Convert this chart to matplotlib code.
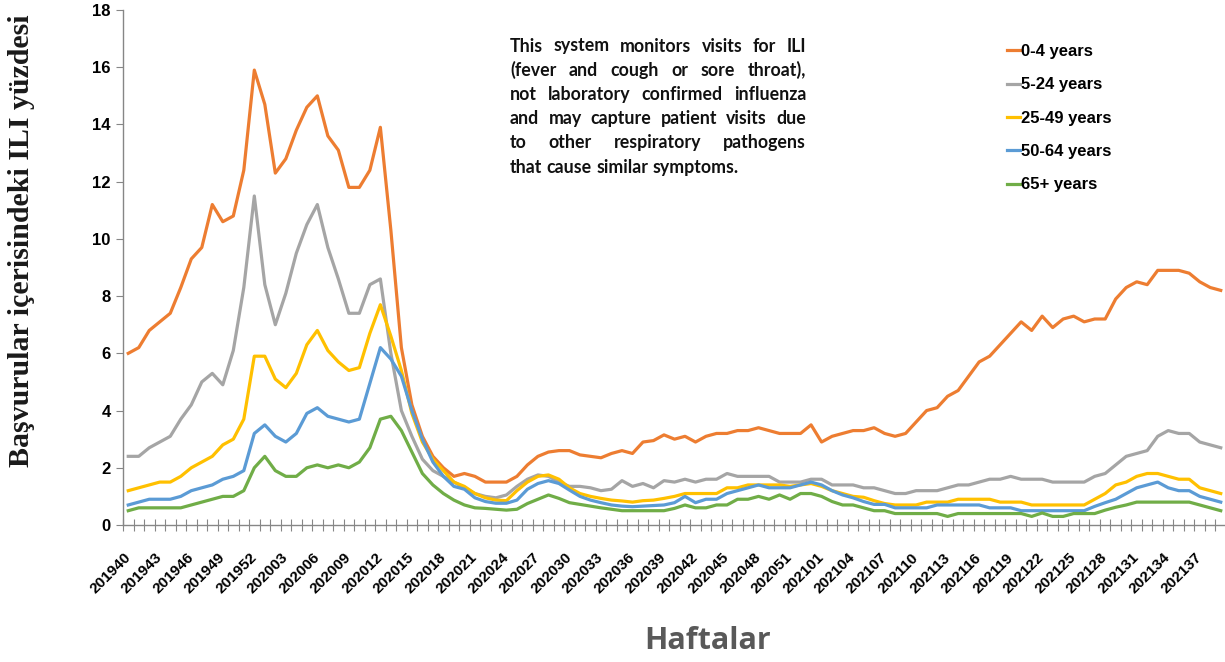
import matplotlib
matplotlib.use("Agg")
import matplotlib.pyplot as plt
import numpy as np

# ISO haftaları: 2019/40 - 2021/39 (2020 yılı 53 hafta)
weeks = ([f"2019{w}" for w in range(40, 53)] +
         [f"2020{w:02d}" for w in range(1, 54)] +
         [f"2021{w:02d}" for w in range(1, 40)])

age_0_4 = [6.0, 6.2, 6.8, 7.1, 7.4, 8.3, 9.3, 9.7, 11.2, 10.6,
           10.8, 12.4, 15.9, 14.7, 12.3, 12.8, 13.8, 14.6, 15.0, 13.6,
           13.1, 11.8, 11.8, 12.4, 13.9, 10.3, 6.2, 4.2, 3.1, 2.4,
           2.0, 1.7, 1.8, 1.7, 1.5, 1.5, 1.5, 1.7, 2.1, 2.4,
           2.55, 2.6, 2.6, 2.45, 2.4, 2.35, 2.5, 2.6, 2.5, 2.9,
           2.95, 3.15, 3.0, 3.1, 2.9, 3.1, 3.2, 3.2, 3.3, 3.3,
           3.4, 3.3, 3.2, 3.2, 3.2, 3.5, 2.9, 3.1, 3.2, 3.3,
           3.3, 3.4, 3.2, 3.1, 3.2, 3.6, 4.0, 4.1, 4.5, 4.7,
           5.2, 5.7, 5.9, 6.3, 6.7, 7.1, 6.8, 7.3, 6.9, 7.2,
           7.3, 7.1, 7.2, 7.2, 7.9, 8.3, 8.5, 8.4, 8.9, 8.9,
           8.9, 8.8, 8.5, 8.3, 8.2]
age_5_24 = [2.4, 2.4, 2.7, 2.9, 3.1, 3.7, 4.2, 5.0, 5.3, 4.9,
            6.1, 8.3, 11.5, 8.4, 7.0, 8.1, 9.5, 10.5, 11.2, 9.7,
            8.6, 7.4, 7.4, 8.4, 8.6, 6.0, 4.0, 3.1, 2.3, 1.9,
            1.7, 1.5, 1.3, 1.1, 1.0, 0.95, 1.05, 1.35, 1.6, 1.75,
            1.7, 1.5, 1.35, 1.35, 1.3, 1.2, 1.25, 1.55, 1.35, 1.45,
            1.3, 1.55, 1.5, 1.6, 1.5, 1.6, 1.6, 1.8, 1.7, 1.7,
            1.7, 1.7, 1.5, 1.5, 1.5, 1.6, 1.6, 1.4, 1.4, 1.4,
            1.3, 1.3, 1.2, 1.1, 1.1, 1.2, 1.2, 1.2, 1.3, 1.4,
            1.4, 1.5, 1.6, 1.6, 1.7, 1.6, 1.6, 1.6, 1.5, 1.5,
            1.5, 1.5, 1.7, 1.8, 2.1, 2.4, 2.5, 2.6, 3.1, 3.3,
            3.2, 3.2, 2.9, 2.8, 2.7]
age_25_49 = [1.2, 1.3, 1.4, 1.5, 1.5, 1.7, 2.0, 2.2, 2.4, 2.8,
             3.0, 3.7, 5.9, 5.9, 5.1, 4.8, 5.3, 6.3, 6.8, 6.1,
             5.7, 5.4, 5.5, 6.7, 7.7, 6.6, 5.4, 3.9, 2.9, 2.3,
             1.9, 1.5, 1.35, 1.1, 0.95, 0.87, 0.85, 1.2, 1.5, 1.7,
             1.75, 1.6, 1.3, 1.1, 1.0, 0.93, 0.87, 0.84, 0.8, 0.85,
             0.87, 0.93, 1.0, 1.1, 1.1, 1.1, 1.1, 1.3, 1.3, 1.4,
             1.4, 1.4, 1.4, 1.35, 1.4, 1.45, 1.35, 1.2, 1.1, 1.0,
             0.97, 0.85, 0.75, 0.7, 0.7, 0.7, 0.8, 0.8, 0.8, 0.9,
             0.9, 0.9, 0.9, 0.8, 0.8, 0.8, 0.7, 0.7, 0.7, 0.7,
             0.7, 0.7, 0.9, 1.1, 1.4, 1.5, 1.7, 1.8, 1.8, 1.7,
             1.6, 1.6, 1.3, 1.2, 1.1]
age_50_64 = [0.7, 0.8, 0.9, 0.9, 0.9, 1.0, 1.2, 1.3, 1.4, 1.6,
             1.7, 1.9, 3.2, 3.5, 3.1, 2.9, 3.2, 3.9, 4.1, 3.8,
             3.7, 3.6, 3.7, 4.95, 6.2, 5.8, 5.2, 4.0, 3.0, 2.2,
             1.7, 1.35, 1.25, 0.95, 0.82, 0.76, 0.76, 0.87, 1.25, 1.45,
             1.55, 1.45, 1.22, 1.0, 0.87, 0.78, 0.7, 0.66, 0.64, 0.66,
             0.68, 0.7, 0.78, 1.0, 0.78, 0.9, 0.9, 1.1, 1.2, 1.3,
             1.4, 1.3, 1.3, 1.3, 1.4, 1.5, 1.4, 1.2, 1.05, 0.95,
             0.82, 0.72, 0.72, 0.6, 0.6, 0.6, 0.6, 0.7, 0.7, 0.7,
             0.7, 0.7, 0.6, 0.6, 0.6, 0.5, 0.5, 0.5, 0.5, 0.5,
             0.5, 0.5, 0.65, 0.78, 0.9, 1.1, 1.3, 1.4, 1.5, 1.3,
             1.2, 1.2, 1.0, 0.9, 0.8]
age_65 = [0.5, 0.6, 0.6, 0.6, 0.6, 0.6, 0.7, 0.8, 0.9, 1.0,
          1.0, 1.2, 2.0, 2.4, 1.9, 1.7, 1.7, 2.0, 2.1, 2.0,
          2.1, 2.0, 2.2, 2.7, 3.7, 3.8, 3.3, 2.55, 1.8, 1.4,
          1.1, 0.87, 0.7, 0.6, 0.58, 0.55, 0.52, 0.55, 0.75, 0.9,
          1.05, 0.93, 0.78, 0.72, 0.66, 0.6, 0.55, 0.5, 0.5, 0.5,
          0.5, 0.5, 0.58, 0.7, 0.6, 0.6, 0.7, 0.7, 0.9, 0.9,
          1.0, 0.9, 1.05, 0.9, 1.1, 1.1, 1.0, 0.82, 0.7, 0.7,
          0.6, 0.5, 0.5, 0.4, 0.4, 0.4, 0.4, 0.4, 0.3, 0.4,
          0.4, 0.4, 0.4, 0.4, 0.4, 0.4, 0.3, 0.42, 0.3, 0.3,
          0.4, 0.4, 0.4, 0.52, 0.62, 0.7, 0.8, 0.8, 0.8, 0.8,
          0.8, 0.8, 0.7, 0.6, 0.5]

series = [("0-4 years", age_0_4, "#ED7D31"),
          ("5-24 years", age_5_24, "#A5A5A5"),
          ("25-49 years", age_25_49, "#FFC000"),
          ("50-64 years", age_50_64, "#5B9BD5"),
          ("65+ years", age_65, "#70AD47")]

note_lines = ["This system monitors visits for ILI",
              "(fever and cough or sore throat),",
              "not laboratory confirmed influenza",
              "and may capture patient visits due",
              "to other respiratory pathogens",
              "that cause similar symptoms."]

W, H = 1225, 662
fig = plt.figure(figsize=(W / 100, H / 100), dpi=100)
ax = fig.add_axes([123 / W, (H - 525) / H, (1226 - 123) / W, 515 / H])

x = np.arange(len(weeks))
for name, vals, col in series:
    ax.plot(x, vals, color=col, lw=2.3, label=name, solid_joinstyle="round")

ax.set_xlim(-0.5, len(weeks) - 0.5)
ax.set_ylim(0, 18)
ax.set_yticks(np.arange(0, 19, 2))
ax.set_xticks(x[::3])
ax.set_xticklabels(weeks[::3], rotation=45, ha="right", va="center",
                   rotation_mode="anchor", fontsize=11, fontweight="bold",
                   family="Liberation Sans")
ax.set_xticks(np.arange(-0.5, len(weeks)), minor=True)
ax.tick_params(axis="x", which="major", length=0, pad=22)
ax.tick_params(axis="x", which="minor", direction="inout", length=8,
               color="#868686", width=0.8)
ax.tick_params(axis="y", direction="out", length=5, color="#868686",
               width=0.8, pad=4, labelsize=12)
for lab in ax.get_yticklabels():
    lab.set_fontweight("bold")
    lab.set_family("Liberation Sans")

for s in ["top", "right"]:
    ax.spines[s].set_visible(False)
for s in ["left", "bottom"]:
    ax.spines[s].set_color("#868686")
    ax.spines[s].set_linewidth(1.0)

leg = ax.legend(loc="upper left", bbox_to_anchor=(992 / W, 1 - 29 / H),
                bbox_transform=fig.transFigure, frameon=False,
                handlelength=0.75, handletextpad=0.1, labelspacing=1.1,
                prop={"family": "Liberation Sans", "weight": "bold", "size": 12})

# iki yana yaslı not kutusu
renderer = fig.canvas.get_renderer()
fs = 12.8
note_font = dict(fontsize=fs, fontweight="bold", family="Lato")
left_px, right_px, top_px, step = 510, 806, 46, 24.2
for k, line in enumerate(note_lines):
    y = 1 - (top_px + k * step) / H
    words = line.split()
    texts = [fig.text(0, y, w, va="center", ha="left", color="#111111",
                      **note_font) for w in words]
    widths = [t.get_window_extent(renderer).width for t in texts]
    if k == len(note_lines) - 1:
        sp = 0.25 * fs * 100 / 72
    else:
        sp = (right_px - left_px - sum(widths)) / (len(words) - 1)
    pos = left_px
    for t, w in zip(texts, widths):
        t.set_x(pos / W)
        pos += w + sp

fig.text(22 / W, 1 - 241 / H, "Başvurular içerisindeki ILI yüzdesi",
         rotation=90, ha="center", va="center", fontsize=21.5,
         fontweight="bold", family="Liberation Serif", color="#1a1a1a")
fig.text(708 / W, 1 - 641 / H, "Haftalar", ha="center", va="center",
         fontsize=22, fontweight="bold", family="Open Sans", color="#595959")

fig.savefig("out.png", dpi=100)
